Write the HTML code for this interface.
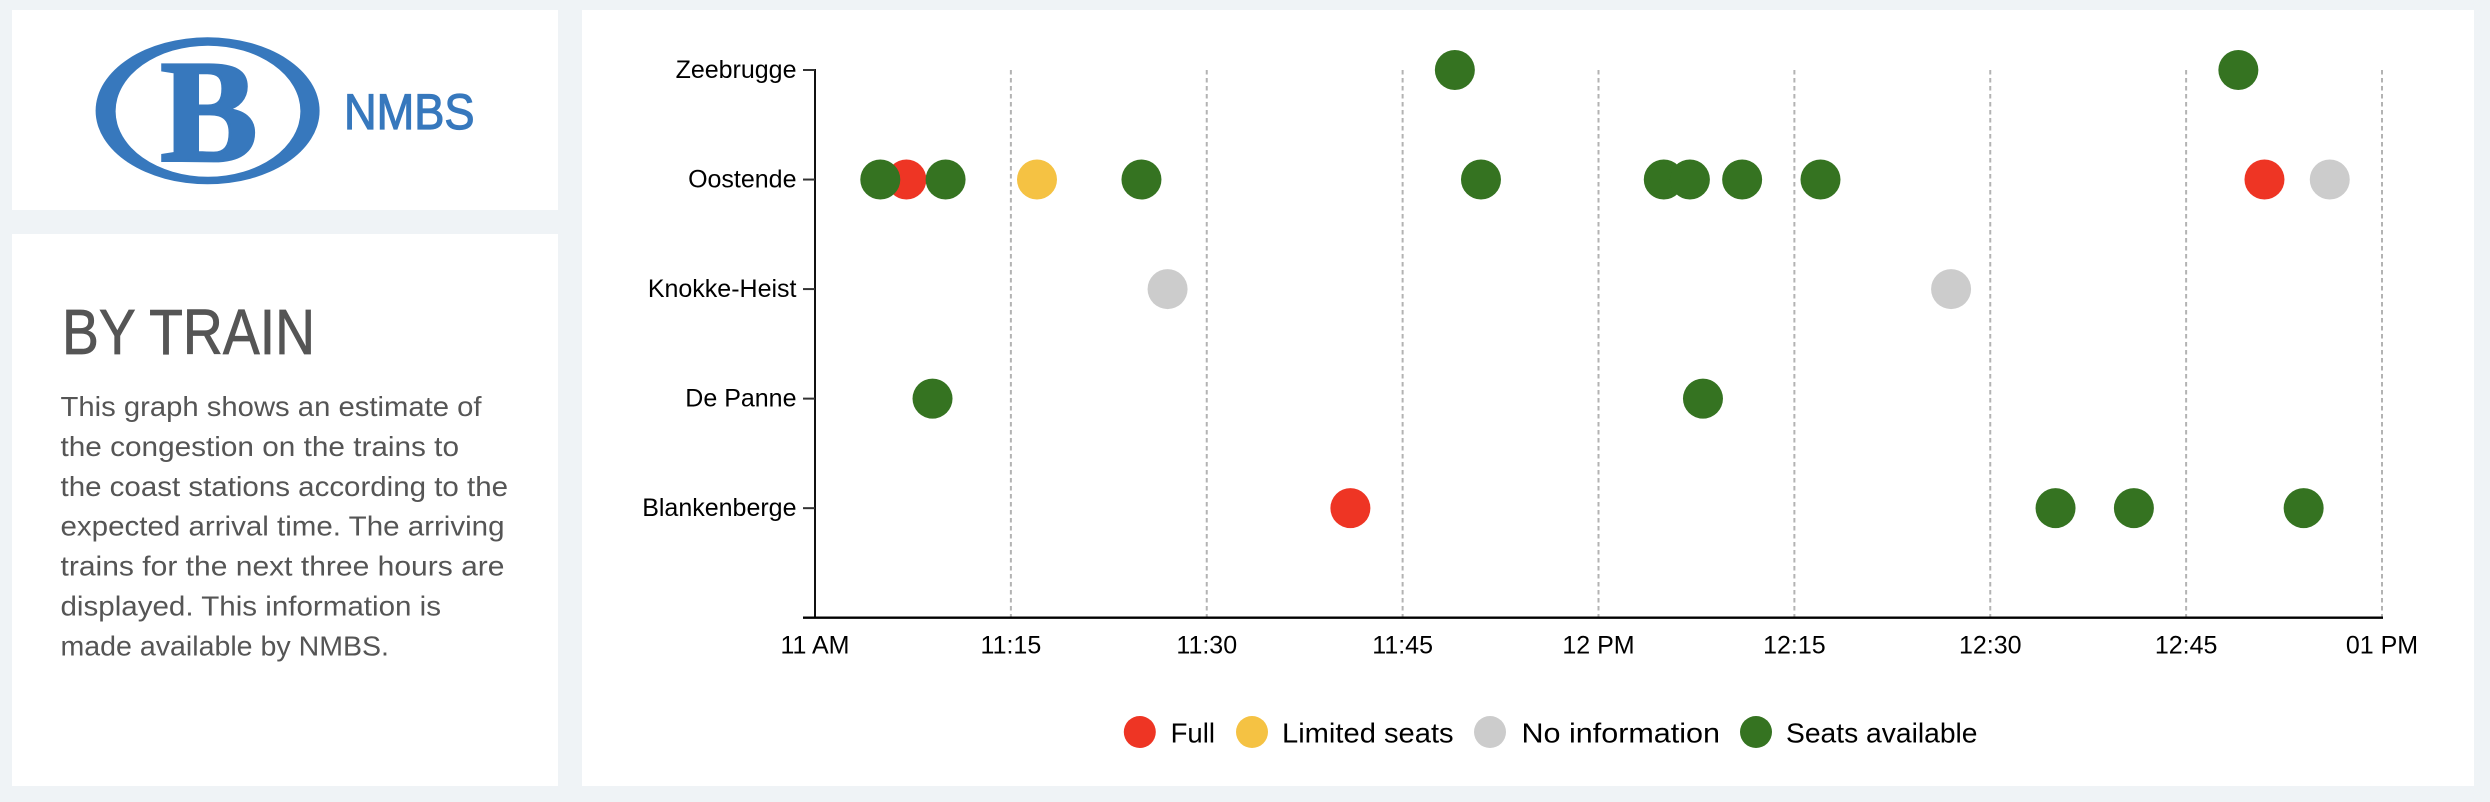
<!DOCTYPE html>
<html lang="en">
<head>
<meta charset="utf-8">
<title>NMBS - By train</title>
<style>
html,body{margin:0;padding:0;width:2490px;height:802px;overflow:hidden;background:#eff3f6;font-family:"Liberation Sans",sans-serif}
svg{position:absolute;left:0;top:0;display:block}
</style>
</head>
<body>
<svg id="page" xmlns="http://www.w3.org/2000/svg" width="2490" height="802" viewBox="0 0 2490 802" font-family="'Liberation Sans', sans-serif">
  <rect x="12" y="10" width="546" height="200" fill="#fff"/>
  <rect x="12" y="234" width="546" height="552" fill="#fff"/>
  <rect x="582" y="10" width="1892" height="776" fill="#fff"/>

  <g>
    <ellipse cx="207.6" cy="110.8" rx="112" ry="73.5" fill="#3778bd"/>
    <ellipse cx="208" cy="111.2" rx="92.4" ry="65.5" fill="#fff"/>
    <text x="209" y="160.5" text-anchor="middle" font-family="'Liberation Serif', serif" font-weight="700" font-size="146" fill="#3778bd" stroke="#3778bd" stroke-width="3">B</text>
    <text x="344" y="129" font-size="50" fill="#3778bd" stroke="#3778bd" stroke-width="1.2" textLength="130.5" lengthAdjust="spacingAndGlyphs">NMBS</text>
  </g>

  <g fill="#555">
    <text x="62" y="354" font-size="64" stroke="#555" stroke-width="0.8" textLength="253" lengthAdjust="spacingAndGlyphs">BY TRAIN</text>
    <g font-size="28">
      <text x="60.5" y="416" textLength="421" lengthAdjust="spacingAndGlyphs">This graph shows an estimate of</text>
      <text x="60.5" y="456" textLength="398.5" lengthAdjust="spacingAndGlyphs">the congestion on the trains to</text>
      <text x="60.5" y="496" textLength="447.5" lengthAdjust="spacingAndGlyphs">the coast stations according to the</text>
      <text x="60.5" y="535.5" textLength="444" lengthAdjust="spacingAndGlyphs">expected arrival time. The arriving</text>
      <text x="60.5" y="575.5" textLength="444" lengthAdjust="spacingAndGlyphs">trains for the next three hours are</text>
      <text x="60.5" y="615.5" textLength="380.5" lengthAdjust="spacingAndGlyphs">displayed. This information is</text>
      <text x="60.5" y="655.5" textLength="328.5" lengthAdjust="spacingAndGlyphs">made available by NMBS.</text>
    </g>
  </g>

  <g id="chart"></g>
</svg>

<script>
// Chart data
const stations = ["Zeebrugge", "Oostende", "Knokke-Heist", "De Panne", "Blankenberge"];
const timeTickMinutes = [0, 15, 30, 45, 60, 75, 90, 105, 120];
const timeTickLabels = ["11 AM", "11:15", "11:30", "11:45", "12 PM", "12:15", "12:30", "12:45", "01 PM"];
const statusNames = ["Full", "Limited seats", "No information", "Seats available"];
const statusColors = ["#ee3524", "#f5c243", "#cccccc", "#357321"];

// Arrival times in minutes after 11:00, one array per status, paired with station names
const fullStations = ["Oostende", "Oostende", "Blankenberge"];
const fullMinutes = [7, 111, 41];
const limitedStations = ["Oostende"];
const limitedMinutes = [17];
const noInfoStations = ["Oostende", "Knokke-Heist", "Knokke-Heist"];
const noInfoMinutes = [116, 27, 87];
const seatsStations = ["Zeebrugge", "Zeebrugge", "Oostende", "Oostende", "Oostende", "Oostende", "Oostende", "Oostende", "Oostende", "Oostende", "De Panne", "De Panne", "Blankenberge", "Blankenberge", "Blankenberge"];
const seatsMinutes = [49, 109, 5, 10, 25, 51, 65, 67, 71, 77, 9, 68, 95, 101, 114];

const seriesStations = [fullStations, limitedStations, noInfoStations, seatsStations];
const seriesMinutes = [fullMinutes, limitedMinutes, noInfoMinutes, seatsMinutes];

// Layout
const plotLeft = 815, plotRight = 2382, plotTop = 70, plotBottom = 617.7;
const minuteMax = 120;
const NS = "http://www.w3.org/2000/svg";
const chart = document.getElementById("chart");

function x(minute) { return plotLeft + (minute / minuteMax) * (plotRight - plotLeft); }
function y(station) {
  const step = (plotBottom - plotTop) / stations.length;
  return plotTop + stations.indexOf(station) * step;
}
function make(tag, attrs, parent, text) {
  const el = document.createElementNS(NS, tag);
  for (const k in attrs) el.setAttribute(k, attrs[k]);
  if (text !== undefined) el.textContent = text;
  parent.appendChild(el);
  return el;
}

// Gridlines
const gridGroup = make("g", {}, chart);


timeTickMinutes.forEach(function (m) {
  if (m === 0) return;
  const line = make("line", { x1: x(m), x2: x(m), y1: plotTop, y2: plotBottom, stroke: "#b3b3b3", "stroke-width": 2, "stroke-dasharray": "4.5 3.5" }, gridGroup);
  
  
});

// Y axis
const yAxis = make("g", {}, chart);


const yLine = make("line", { x1: plotLeft, x2: plotLeft, y1: plotTop - 1, y2: plotBottom, stroke: "#111", "stroke-width": 2 }, yAxis);


stations.forEach(function (s) {
  const tick = make("line", { x1: 803, x2: plotLeft, y1: y(s), y2: y(s), stroke: "#333", "stroke-width": 2 }, yAxis);
  
  
  const label = make("text", { x: 796.5, y: y(s) + 8, "text-anchor": "end", "font-size": 25, fill: "#000" }, yAxis, s);
  
  
});

// X axis
const xAxis = make("g", {}, chart);


const xLine = make("line", { x1: 803, x2: plotRight + 1, y1: plotBottom, y2: plotBottom, stroke: "#000", "stroke-width": 2.4 }, xAxis);


timeTickMinutes.forEach(function (m, i) {
  const label = make("text", { x: x(m), y: 653.5, "text-anchor": "middle", "font-size": 25, fill: "#000" }, xAxis, timeTickLabels[i]);
  
  
});

// Points: drawn series by series, so later statuses overlap earlier ones
statusNames.forEach(function (name, i) {
  const group = make("g", { fill: statusColors[i] }, chart);
  
  
  seriesMinutes[i].forEach(function (m, j) {
    const dot = make("circle", { cx: x(m), cy: y(seriesStations[i][j]), r: 20 }, group);
    
    
  });
});

// Legend
const legendDotX = [1139.8, 1252, 1490, 1756];
const legendTextX = [1170.6, 1282, 1521.5, 1786];
const legendTextWidth = [44.4, 171.6, 198.5, 191.5];
const legendGroup = make("g", {}, chart);


statusNames.forEach(function (name, i) {
  const entry = make("g", {}, legendGroup);
  
  
  const swatch = make("circle", { cx: legendDotX[i], cy: 732, r: 16, fill: statusColors[i] }, entry);
  
  
  const label = make("text", { x: legendTextX[i], y: 742.5, "font-size": 28, fill: "#000", textLength: legendTextWidth[i], lengthAdjust: "spacingAndGlyphs" }, entry, name);
  
  
});
</script>
</body>
</html>
